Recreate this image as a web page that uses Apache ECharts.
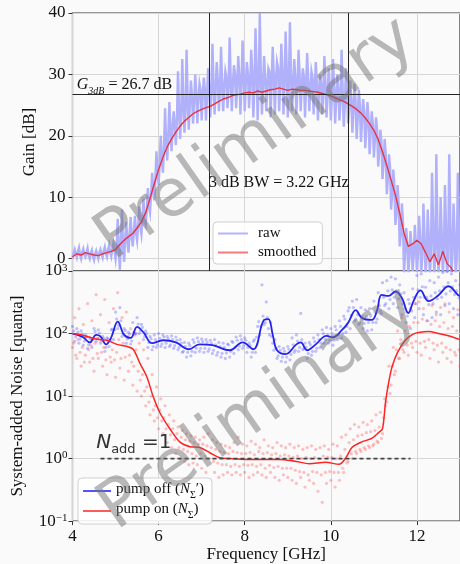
<!DOCTYPE html>
<html lang="en">
  <head>
    <meta charset="UTF-8" />
    <title>Gain and system-added noise</title>
    <script src="https://cdn.jsdelivr.net/npm/echarts@6/dist/echarts.min.js"></script>
    <style>
      html, body { margin: 0; padding: 0; background: #fafafa; }
      #chart { width: 460px; height: 564px; }
    </style>
  </head>
  <body>
    <div id="chart"></div>
    <script>
      // raw gain and scatter noise are sampled on a regular frequency grid
      const freqStart = 4;
      const midStart = 4.025;   // second set of samples between the grid points
      const freqStep = 0.05;

      // raw gain [dB], one row per GHz
      const gainRaw = [
        0.0, 1.5, 0.2, 1.8, 0.0, 1.6, 0.3, 1.7, 0.0, 1.4, -0.2, 1.3, 0.0, 1.5, 0.2, 1.9, 0.3, 2.2, 0.4, 2.5,
        0.0, 6.5, -1.8, 8.0, -0.5, 6.0, 1.0, 6.8, 2.0, 7.0, 3.0, 8.5, 4.0, 9.8, 5.5, 11.5, 7.5, 14.0, 9.5, 17.5,
        12.0, 20.0, 14.0, 24.5, 16.0, 25.5, 17.5, 24.0, 18.5, 30.5, 19.5, 32.5, 20.5, 34.0, 21.0, 29.0, 22.0, 30.0, 22.0, 28.5,
        22.5, 29.5, 22.5, 31.0, 23.0, 35.0, 23.5, 32.0, 24.0, 34.5, 24.0, 30.5, 24.5, 36.0, 24.0, 31.5, 24.5, 33.0, 23.5, 35.5,
        24.0, 32.0, 24.5, 34.0, 23.0, 37.5, 22.5, 40.0, 23.5, 33.0, 24.0, 31.0, 23.0, 34.5, 23.5, 32.0, 24.0, 35.0, 23.5, 37.0,
        23.0, 38.5, 24.0, 32.5, 23.5, 34.0, 24.0, 31.0, 23.0, 33.5, 24.0, 30.5, 23.5, 32.0, 22.5, 30.0, 23.5, 33.0, 23.0, 31.0,
        22.5, 32.5, 22.0, 30.0, 22.5, 34.0, 21.5, 31.0, 22.0, 29.0, 20.5, 28.5, 19.5, 27.5, 19.0, 26.0, 18.0, 25.5, 17.0, 24.0,
        16.5, 23.0, 15.0, 21.0, 13.0, 19.5, 10.5, 17.0, 8.0, 14.5, 5.5, 12.0, 2.0, 9.0, -2.5, 5.0, -2.5, 4.5, -2.0, 5.5,
        -2.5, 7.0, -2.5, 9.0, -2.5, 8.0, -3.0, 14.0, -2.5, 17.0, -3.0, 10.0, -2.5, 12.0, -3.0, 17.0, -3.0, 9.0, -3.0, 14.0,
        -3.0
      ];
      const gainRawMid = [
        1.0, 0.8, 1.2, 0.6, 1.1, 0.7, 1.0, 0.5, 0.9, 0.4, 0.8, 0.6, 1.0, 0.8, 1.2, 0.9, 1.4, 1.1, 1.6, 1.3,
        2.0, 1.5, 3.0, 2.0, 3.5, 2.8, 4.0, 3.5, 4.5, 4.2, 5.5, 5.2, 6.5, 6.0, 8.0, 8.5, 10.5, 11.0, 13.0, 14.0,
        15.5, 16.0, 18.0, 19.0, 20.0, 21.0, 21.5, 22.0, 22.5, 24.0, 23.5, 25.5, 24.0, 26.0, 25.0, 26.5, 25.5, 27.0, 26.0, 27.5,
        26.5, 27.5, 26.5, 28.0, 27.0, 28.5, 27.5, 29.0, 27.5, 28.5, 28.0, 29.5, 28.0, 29.0, 28.5, 30.0, 28.5, 29.5, 28.5, 30.5,
        28.5, 30.0, 28.0, 30.5, 28.0, 31.0, 28.5, 30.0, 28.5, 29.5, 28.0, 30.5, 28.5, 30.0, 29.0, 31.0, 28.5, 30.5, 28.5, 31.0,
        28.5, 30.0, 28.5, 29.5, 28.0, 30.0, 28.0, 29.5, 28.0, 29.0, 27.5, 29.5, 27.5, 29.0, 27.0, 28.5, 27.0, 28.5, 26.5, 28.0,
        26.5, 28.0, 26.0, 27.5, 25.5, 27.5, 25.0, 27.0, 24.5, 26.0, 24.0, 25.5, 23.0, 25.0, 22.5, 24.0, 21.5, 23.0, 20.5, 22.0,
        19.5, 21.0, 17.5, 19.0, 15.5, 17.0, 13.0, 15.0, 10.5, 12.0, 7.5, 9.0, 4.0, 6.0, 1.0, 2.5, 0.5, 2.0, 0.5, 2.5,
        1.0, 3.0, 0.5, 4.0, 0.0, 3.5, 1.0, 6.0, 0.0, 5.0, 1.0, 4.0, 0.5, 5.5, 0.0, 6.0, 1.0, 4.0, 0.0, 5.0
      ];

      // smoothed gain [dB], every 0.1 GHz from 4 to 13
      const smoothStep = 0.1;
      const gainSmooth = [
        0.3, 0.8, 0.6, 1.0, 0.8, 0.6, 0.5, 0.8, 1.0, 1.2,
        1.5, 2.3, 3.0, 3.6, 4.1, 5.0, 6.0, 7.5, 9.8, 12.2,
        14.5, 16.5, 18.2, 19.5, 20.6, 21.6, 22.4, 23.0, 23.6, 24.0,
        24.3, 24.6, 24.8, 25.2, 25.6, 26.0, 26.2, 26.5, 26.7, 26.8,
        27.0, 27.1, 27.0, 27.3, 27.1, 27.3, 27.5, 27.6, 27.8, 27.6,
        27.4, 27.6, 27.5, 27.4, 27.4, 27.3, 27.2, 27.1, 26.9, 26.7,
        26.5, 26.2, 25.9, 25.6, 25.2, 24.8, 24.3, 23.7, 22.9, 22.0,
        20.9, 19.4, 17.4, 15.2, 12.8, 10.4, 7.4, 4.2, 2.0, 2.4,
        3.0, 2.4, 1.0, -0.5, 0.8, -1.0, 1.2, -0.8, -1.5, -4.0,
        -4.0
      ];

      const g3dB = 26.7;
      const bwEdges = [7.18, 10.40];
      const gainTicks = [0, 10, 20, 30, 40];

      // noise scatter [quanta] on the 0.05 GHz grid, pump off / pump on
      const offScatter = [
        130, 75, 120, 70, 110, 65, 95, 58, 85, 60, 120, 75, 115, 70, 90, 52, 85, 62, 115, 80,
        220, 120, 260, 90, 120, 70, 105, 68, 150, 95, 180, 100, 140, 80, 110, 60, 90, 55, 95, 60,
        100, 62, 95, 60, 90, 62, 92, 58, 88, 55, 80, 50, 72, 42, 70, 44, 80, 50, 85, 52,
        82, 50, 80, 52, 78, 48, 80, 45, 72, 42, 70, 40, 68, 42, 75, 48, 88, 55, 92, 58,
        85, 50, 70, 42, 75, 50, 130, 95, 600, 140, 320, 120, 150, 70, 80, 40, 62, 36, 58, 35,
        62, 38, 85, 50, 95, 52, 210, 55, 70, 40, 72, 45, 85, 52, 95, 60, 115, 70, 125, 70,
        120, 65, 130, 80, 160, 85, 190, 105, 230, 120, 330, 160, 350, 140, 260, 120, 240, 110, 250, 115,
        330, 150, 450, 230, 650, 280, 700, 250, 800, 300, 750, 260, 600, 200, 450, 150, 350, 120, 520, 180,
        850, 250, 900, 200, 550, 160, 700, 180, 650, 220, 800, 200, 950, 280, 980, 300, 900, 250, 700, 200,
        600
      ];
      const onScatter = [
        60, 180, 40, 250, 30, 140, 45, 300, 35, 160, 25, 420, 40, 200, 30, 350, 22, 150, 35, 250,
        20, 450, 28, 180, 18, 220, 25, 120, 15, 100, 12, 70, 10, 55, 7, 40, 5, 22, 4, 14,
        3, 9, 2.5, 7, 1.8, 5, 1.5, 4, 1.2, 3.2, 1.0, 2.8, 0.9, 2.5, 0.8, 2.3, 0.85, 2.2, 0.8, 2.0,
        0.7, 2.2, 0.6, 2.5, 0.45, 2.0, 0.6, 1.8, 0.5, 1.7, 0.55, 1.6, 0.6, 1.5, 0.55, 1.8, 0.6, 2.2, 0.55, 1.7,
        0.6, 1.6, 0.5, 1.9, 0.55, 1.7, 0.6, 1.5, 0.55, 2.0, 0.5, 1.6, 0.6, 1.5, 0.5, 1.8, 0.45, 1.6, 0.55, 1.5,
        0.5, 1.7, 0.45, 1.5, 0.4, 1.6, 0.5, 1.4, 0.35, 1.5, 0.45, 1.6, 0.4, 1.4, 0.3, 1.5, 0.2, 1.6, 0.4, 1.4,
        0.45, 1.7, 0.35, 1.6, 0.45, 2.2, 0.6, 2.4, 0.9, 3.0, 1.0, 3.5, 1.2, 3.2, 1.3, 3.8, 1.4, 3.5, 1.5, 4.0,
        1.7, 5.0, 1.8, 5.5, 2.5, 9, 8, 30, 15, 60, 25, 110, 40, 180, 50, 220, 45, 250, 60, 300,
        50, 320, 45, 250, 60, 350, 40, 280, 55, 200, 35, 260, 50, 300, 40, 220, 35, 180, 45, 240,
        30
      ];
      const offScatterMid = [
        110, 88, 105, 82, 98, 76, 88, 66, 82, 80, 108, 84, 102, 76, 84, 60, 82, 78, 118, 115,
        170, 135, 160, 100, 112, 82, 98, 76, 105, 100, 142, 110, 125, 90, 100, 72, 82, 62, 80, 66,
        84, 68, 88, 70, 82, 66, 80, 64, 78, 60, 70, 52, 62, 50, 64, 52, 72, 58, 74, 58,
        74, 58, 72, 57, 70, 54, 66, 50, 62, 48, 60, 49, 66, 52, 72, 60, 78, 63, 80, 64,
        78, 60, 64, 50, 80, 88, 155, 130, 190, 150, 180, 95, 90, 54, 58, 44, 54, 42, 52, 42,
        56, 46, 66, 54, 76, 60, 80, 58, 60, 48, 66, 52, 74, 58, 80, 70, 100, 80, 96, 78,
        100, 78, 115, 95, 130, 100, 170, 130, 260, 195, 260, 170, 200, 150, 190, 145, 185, 150, 190, 150,
        220, 170, 280, 210, 380, 300, 480, 350, 500, 380, 480, 360, 430, 300, 250, 190, 300, 230, 380, 300,
        500, 380, 560, 380, 380, 290, 400, 300, 450, 360, 480, 380, 560, 430, 650, 480, 560, 420, 480, 370
      ];
      const onScatterMid = [
        70, 45, 80, 50, 60, 35, 90, 55, 65, 40, 70, 48, 85, 50, 60, 38, 75, 42, 55, 38,
        50, 80, 40, 70, 42, 90, 45, 35, 30, 55, 25, 18, 22, 12, 14, 8, 10, 6, 7, 4.5,
        6, 4, 4.5, 3, 3.5, 2.4, 3, 2, 2.5, 1.5, 2.2, 1.4, 2, 1.3, 1.9, 1.2, 1.8, 1.1, 1.7, 1.2,
        1.7, 1.1, 1.6, 1.0, 1.5, 0.9, 1.4, 0.85, 1.3, 0.8, 1.25, 0.8, 1.2, 0.75, 1.3, 0.8, 1.25, 0.75, 1.2, 0.8,
        1.2, 0.78, 1.25, 0.8, 1.15, 0.75, 1.3, 0.8, 1.2, 0.7, 1.25, 0.78, 1.15, 0.72, 1.2, 0.75, 1.1, 0.7, 1.15, 0.7,
        1.1, 0.7, 1.05, 0.65, 1.1, 0.62, 1.0, 0.6, 1.05, 0.55, 1.0, 0.62, 1.05, 0.6, 1.0, 0.55, 1.1, 0.6, 1.05, 0.62,
        1.05, 0.6, 1.0, 0.6, 1.1, 0.7, 1.4, 0.85, 1.8, 1.2, 2.0, 1.3, 2.3, 1.4, 2.4, 1.5, 2.6, 1.6, 2.7, 1.6,
        2.8, 1.9, 3.2, 2.1, 4.5, 7, 14, 11, 30, 22, 55, 40, 80, 55, 110, 65, 130, 70, 150, 75,
        150, 70, 170, 75, 160, 80, 140, 70, 160, 65, 130, 70, 150, 60, 120, 55, 130, 50, 110, 55
      ];

      // smoothed noise curves
      const offFreq = [4.0, 4.12, 4.25, 4.4, 4.55, 4.65, 4.78, 4.9, 5.05, 5.2, 5.35, 5.5, 5.65, 5.85, 6.1, 6.4, 6.7,
        6.95, 7.25, 7.65, 7.95, 8.2, 8.45, 8.55, 8.65, 8.75, 8.95, 9.2, 9.3, 9.45, 9.65, 9.9, 10.05, 10.25, 10.4,
        10.58, 10.72, 10.95, 11.07, 11.18, 11.34, 11.5, 11.65, 11.8, 11.92, 12.08, 12.27, 12.5, 12.73, 12.96, 13.0];
      const offSmooth = [100, 95, 87, 72, 95, 90, 67, 87, 155, 95, 85, 128, 104, 70, 78, 72, 56,
        67, 65, 54, 72, 56, 165, 170, 96, 54, 47, 67, 72, 54, 67, 92, 87, 112, 148,
        237, 178, 165, 230, 415, 400, 470, 370, 213, 330, 490, 330, 410, 570, 410, 400];
      const onFreq = [4.0, 4.26, 4.57, 4.8, 5.03, 5.27, 5.41, 5.57, 5.73, 5.87, 6.03, 6.26, 6.49, 6.73, 6.96, 7.19,
        7.42, 7.65, 8.04, 8.42, 8.8, 9.19, 9.5, 9.88, 10.19, 10.35, 10.49, 10.72, 10.95, 11.11, 11.2, 11.27,
        11.34, 11.42, 11.55, 11.73, 11.9, 12.04, 12.27, 12.5, 12.73, 13.0];
      const onSmooth = [100, 93, 81, 78, 67, 62, 56, 33, 20, 10, 5.4, 3.0, 1.85, 1.55, 1.5, 1.24,
        1.03, 1.0, 0.97, 0.97, 0.97, 0.9, 0.83, 0.87, 0.81, 1.03, 1.5, 1.85, 2.1, 2.6, 3.0, 8,
        16, 29, 50, 78, 97, 104, 108, 100, 92, 80];

      const naddSpan = [4.65, 11.85];
      const naddLevel = 1;

      const serif = '"Liberation Serif", "DejaVu Serif", serif';
      const sans = '"DejaVu Sans", sans-serif';

      const onGrid = (vals, start, step) => vals.map((v, i) => [+(start + i * step).toFixed(3), v]);
      const merged = (a, b) => onGrid(a, freqStart, freqStep).concat(onGrid(b, midStart, freqStep))
        .sort((p, q) => p[0] - q[0]);
      const zip = (xs, ys) => xs.map((x, i) => [x, ys[i]]);

      const tickFont = { fontFamily: serif, fontSize: 17, color: '#111' };
      const nameFont = { fontFamily: serif, fontSize: 17, color: '#111' };
      const split = { show: true, lineStyle: { color: '#d6d6d6', width: 1 } };
      const tick = { show: true, length: 4, lineStyle: { color: '#333', width: 1 } };

      let mychart = echarts.init(document.getElementById('chart'));

      let options = {
        backgroundColor: '#fafafa',
        animation: false,
        grid: [
          { left: 72.5, right: -1, top: 13, height: 258, show: true, borderColor: '#333', borderWidth: 1.2 },
          { left: 72.5, right: -1, top: 271, height: 257, show: true, borderColor: '#333', borderWidth: 1.2 }
        ],
        xAxis: [
          {
            gridIndex: 0, type: 'value', min: 4, max: 13, interval: 2,
            axisLine: { show: false }, axisTick: { show: false }, axisLabel: { show: false },
            splitLine: split
          },
          {
            gridIndex: 1, type: 'value', min: 4, max: 13, interval: 2,
            axisLine: { show: false }, axisTick: tick,
            axisLabel: Object.assign({ margin: 7, showMaxLabel: false }, tickFont),
            splitLine: split,
            name: 'Frequency [GHz]', nameLocation: 'middle', nameGap: 19, nameTextStyle: nameFont
          }
        ],
        yAxis: [
          {
            gridIndex: 0, type: 'value', min: -2, max: 40,
            axisLine: { show: false },
            axisTick: Object.assign({ customValues: gainTicks }, tick),
            axisLabel: Object.assign({ customValues: gainTicks, margin: 7 }, tickFont),
            splitLine: split,
            name: 'Gain [dB]', nameLocation: 'middle', nameGap: 29, nameTextStyle: nameFont
          },
          {
            gridIndex: 1, type: 'log', logBase: 10, min: 0.1, max: 1000, splitNumber: 4,
            axisLine: { show: false }, axisTick: tick,
            axisLabel: {
              margin: 5,
              formatter: function (v) {
                let e = Math.round(Math.log10(v));
                return '{b|10}{s|' + (e < 0 ? '\u2212' + (-e) : e) + '}';
              },
              rich: {
                b: { fontFamily: serif, fontSize: 17, color: '#111' },
                s: { fontFamily: serif, fontSize: 11, color: '#111', verticalAlign: 'top' }
              }
            },
            splitLine: split,
            name: 'System-added Noise [quanta]', nameLocation: 'middle', nameGap: 46, nameTextStyle: nameFont
          }
        ],
        legend: [
          {
            data: [
              { name: 'raw', itemStyle: { color: '#b4b4fc' } },
              { name: 'smoothed', itemStyle: { color: '#f77a7a' } }
            ],
            left: 213, top: 222, orient: 'vertical', selectedMode: false,
            icon: 'rect', itemWidth: 30, itemHeight: 2, itemGap: 4,
            padding: [4, 6, 4, 5],
            backgroundColor: 'rgba(255,255,255,0.85)', borderColor: '#d0d0d0', borderWidth: 1, borderRadius: 4,
            formatter: n => '{t|' + n + '}',
            textStyle: { rich: { t: { fontFamily: serif, fontSize: 15, color: '#111', padding: [0, 0, 0, 5] } } }
          },
          {
            data: [
              { name: 'pump off', itemStyle: { color: '#5555f5' } },
              { name: 'pump on', itemStyle: { color: '#ff5a5a' } }
            ],
            left: 78, top: 478, orient: 'vertical', selectedMode: false,
            icon: 'rect', itemWidth: 28, itemHeight: 2, itemGap: 2,
            padding: [4, 8, 4, 5],
            backgroundColor: 'rgba(255,255,255,0.85)', borderColor: '#d0d0d0', borderWidth: 1, borderRadius: 4,
            formatter: function (n) {
              let sub = n === 'pump off' ? '{s|\u03a3}{t|\u2032)}' : '{s|\u03a3}{t|)}';
              return '{t|' + n + ' (}{i|N}' + sub;
            },
            textStyle: {
              rich: {
                t: { fontFamily: serif, fontSize: 15, color: '#111', padding: [0, 0, 3, 0] },
                i: { fontFamily: serif, fontSize: 15, fontStyle: 'italic', color: '#111', padding: [0, 0, 3, 0] },
                s: { fontFamily: serif, fontSize: 10, color: '#111', verticalAlign: 'bottom' }
              }
            }
          }
        ],
        series: [
          {
            name: 'raw', type: 'line', xAxisIndex: 0, yAxisIndex: 0,
            data: merged(gainRaw, gainRawMid),
            showSymbol: false, color: '#b0b0fb', lineStyle: { width: 2.4, join: 'miter' }, z: 2
          },
          {
            name: 'smoothed', type: 'line', xAxisIndex: 0, yAxisIndex: 0,
            data: onGrid(gainSmooth, freqStart, smoothStep),
            showSymbol: false, color: '#e8323d', lineStyle: { width: 1.4 }, z: 3,
            markLine: {
              silent: true, symbol: ['none', 'none'], label: { show: false },
              lineStyle: { color: '#222', width: 1, type: 'solid' },
              data: [{ yAxis: g3dB }, { xAxis: bwEdges[0] }, { xAxis: bwEdges[1] }]
            }
          },
          {
            type: 'scatter', xAxisIndex: 1, yAxisIndex: 1,
            data: merged(offScatter, offScatterMid),
            symbolSize: 3.2, itemStyle: { color: 'rgba(40,40,255,0.35)' }, z: 2
          },
          {
            type: 'scatter', xAxisIndex: 1, yAxisIndex: 1,
            data: merged(onScatter, onScatterMid),
            symbolSize: 3.2, itemStyle: { color: 'rgba(255,40,40,0.35)' }, z: 2
          },
          {
            name: 'pump off', type: 'line', xAxisIndex: 1, yAxisIndex: 1,
            data: zip(offFreq, offSmooth), smooth: 0.4,
            showSymbol: false, color: '#2323ee', lineStyle: { width: 1.8 }, z: 4
          },
          {
            name: 'pump on', type: 'line', xAxisIndex: 1, yAxisIndex: 1,
            data: zip(onFreq, onSmooth), smooth: 0.3,
            showSymbol: false, color: '#ff2424', lineStyle: { width: 1.5 }, z: 4
          },
          {
            type: 'line', xAxisIndex: 1, yAxisIndex: 1,
            data: [[naddSpan[0], naddLevel], [naddSpan[1], naddLevel]],
            showSymbol: false, color: '#444', lineStyle: { width: 1.6, type: [4, 3] }, z: 5
          }
        ]
      };
      mychart.setOption(options);

      // annotations anchored to data coordinates
      let pG = mychart.convertToPixel({ gridIndex: 0 }, [4.1, g3dB]);
      let pBw = mychart.convertToPixel({ gridIndex: 0 }, [(bwEdges[0] + bwEdges[1]) / 2, 12.4]);
      let pN = mychart.convertToPixel({ gridIndex: 1 }, [4.55, naddLevel]);

      const mark = (x, y) => ({
        type: 'text', x: x, y: y, rotation: 35 * Math.PI / 180, z: 100, silent: true,
        style: {
          text: 'Preliminary', font: '66px "DejaVu Sans"', fill: 'rgba(115,115,115,0.5)',
          align: 'center', verticalAlign: 'middle', textAlign: 'center', textVerticalAlign: 'middle'
        }
      });

      mychart.setOption({
        graphic: [
          {
            type: 'text', x: pG[0], y: pG[1] + 2, z: 50,
            style: {
              text: '{g|G}{s|3dB}{t| = 26.7 dB}',
              verticalAlign: 'bottom', textVerticalAlign: 'bottom',
              rich: {
                g: { fontFamily: serif, fontSize: 16, fontStyle: 'italic', fill: '#111', padding: [0, 0, 4, 0] },
                s: { fontFamily: serif, fontSize: 10, fontStyle: 'italic', fill: '#111', verticalAlign: 'bottom' },
                t: { fontFamily: serif, fontSize: 16, fill: '#111', padding: [0, 0, 4, 0] }
              }
            }
          },
          {
            type: 'text', x: pBw[0], y: pBw[1], z: 50,
            style: {
              text: '3 dB BW = 3.22 GHz', font: '16px ' + serif, fill: '#111',
              align: 'center', verticalAlign: 'middle', textAlign: 'center', textVerticalAlign: 'middle'
            }
          },
          {
            type: 'text', x: pN[0], y: pN[1] - 2, z: 50,
            style: {
              text: '{n|N}{s|add}{e| =1}',
              verticalAlign: 'bottom', textVerticalAlign: 'bottom',
              rich: {
                n: { fontFamily: sans, fontSize: 20, fontStyle: 'italic', fill: '#333', padding: [0, 0, 4, 0] },
                s: { fontFamily: sans, fontSize: 13, fill: '#333', verticalAlign: 'bottom' },
                e: { fontFamily: sans, fontSize: 20, fill: '#333', padding: [0, 0, 4, 0] }
              }
            }
          },
          mark(256, 140),
          mark(259, 410)
        ]
      });
    </script>
  </body>
</html>
